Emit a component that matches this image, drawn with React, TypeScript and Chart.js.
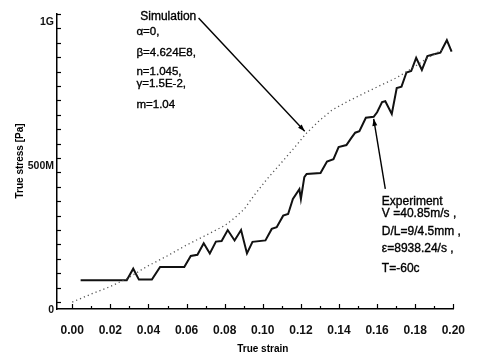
import React, { useEffect, useRef } from "react";
import { Chart, registerables } from "chart.js";

Chart.register(...registerables);

// Measured curve (true strain, true stress in MPa)
const expStrain = [
  0.0044, 0.0286, 0.032, 0.035, 0.0418, 0.0461, 0.0588, 0.0622, 0.0657, 0.069,
  0.0722, 0.0754, 0.0784, 0.0816, 0.0852, 0.0886, 0.0917, 0.0946, 0.1014, 0.1047,
  0.1073, 0.1107, 0.1133, 0.1158, 0.1192, 0.12, 0.1218, 0.123, 0.1303, 0.1337,
  0.1371, 0.1398, 0.1439, 0.1464, 0.1485, 0.1507, 0.1541, 0.1582, 0.16, 0.1626,
  0.1643, 0.1677, 0.1703, 0.1728, 0.1754, 0.1779, 0.1805, 0.1835, 0.1864, 0.1898,
  0.1932, 0.1966, 0.1991,
];
const expStress = [
  76, 76, 116, 78, 78, 122, 122, 160, 164, 204,
  169, 210, 212, 250, 214, 250, 169, 209, 214, 254,
  260, 300, 306, 358, 392, 358, 434, 445, 448, 488,
  496, 538, 545, 569, 588, 593, 640, 643, 659, 694,
  697, 653, 743, 748, 797, 802, 848, 806, 854, 860,
  866, 909, 869,
];

// Model curve (true strain, true stress in MPa)
const simStrain = [
  0, 0.01, 0.02, 0.0291, 0.0393, 0.0495, 0.0597, 0.0699, 0.0801, 0.0852,
  0.0903, 0.0954, 0.1022, 0.109, 0.1158, 0.1226, 0.1294, 0.1362, 0.1447, 0.1532,
  0.1617, 0.1703, 0.178, 0.186, 0.194,
];
const simStress = [
  0, 28, 54, 83, 124, 159, 197, 231, 266, 292,
  323, 370, 427, 478, 530, 584, 628, 666, 697, 725,
  752, 779, 810, 845, 875,
];

const xTickValues = [0, 0.02, 0.04, 0.06, 0.08, 0.1, 0.12, 0.14, 0.16, 0.18, 0.2];
const yTickValues = [0, 500, 1000];
const yTickText = ["0", "500M", "1G"];

const simNotes = ["\u03b1=0,", "\u03b2=4.624E8,", "n=1.045,", "\u03b3=1.5E-2,", "m=1.04"];
const simNoteStress = [938, 866, 800, 759, 686];
const expNotes = ["Experiment", "V =40.85m/s ,", "D/L=9/4.5mm ,", "\u03b5=8938.24/s ,", "T=-60c"];
const expNoteStress = [347, 307, 243, 184, 117];

const FONT = "'Liberation Sans', Arial, sans-serif";

function arrow(ctx: CanvasRenderingContext2D, x1: number, y1: number, x2: number, y2: number) {
  ctx.beginPath();
  ctx.moveTo(x1, y1);
  ctx.lineTo(x2, y2);
  ctx.stroke();
  const a = Math.atan2(y2 - y1, x2 - x1);
  const len = 7;
  const w = 2.5;
  ctx.beginPath();
  ctx.moveTo(x2, y2);
  ctx.lineTo(x2 - len * Math.cos(a) + w * Math.sin(a), y2 - len * Math.sin(a) - w * Math.cos(a));
  ctx.lineTo(x2 - len * Math.cos(a) - w * Math.sin(a), y2 - len * Math.sin(a) + w * Math.cos(a));
  ctx.closePath();
  ctx.fill();
}

// Slightly heavier text for the annotations
function heavyText(ctx: CanvasRenderingContext2D, t: string, x: number, y: number) {
  ctx.fillText(t, x, y);
  ctx.strokeText(t, x, y);
}

const decor = {
  id: "decor",
  afterDraw(chart: any) {
    const { ctx, chartArea } = chart;
    const xs = chart.scales.x;
    const ys = chart.scales.y;
    ctx.save();
    ctx.strokeStyle = "#000";
    ctx.fillStyle = "#000";
    ctx.lineWidth = 1.2;

    // inward minor ticks on the left axis, every 50M
    for (let v = 0; v <= 1000; v += 50) {
      const py = Math.round(ys.getPixelForValue(v)) + 0.5;
      ctx.beginPath();
      ctx.moveTo(chartArea.left, py);
      ctx.lineTo(chartArea.left + 4, py);
      ctx.stroke();
    }
    // inward ticks on the bottom axis, every 0.01
    for (let i = 0; i <= 20; i++) {
      const px = Math.round(xs.getPixelForValue(i / 100)) + 0.5;
      ctx.beginPath();
      ctx.moveTo(px, chartArea.bottom);
      ctx.lineTo(px, chartArea.bottom - (i % 2 === 0 ? 5 : 3));
      ctx.stroke();
    }

    // axis titles
    ctx.font = `bold 10px ${FONT}`;
    ctx.textAlign = "center";
    ctx.textBaseline = "middle";
    ctx.fillText("True strain", xs.getPixelForValue(0.1), 349);
    ctx.save();
    ctx.translate(20, ys.getPixelForValue(490));
    ctx.rotate(-Math.PI / 2);
    ctx.fillText("True stress [Pa]", 0, 0);
    ctx.restore();

    // model parameters and test conditions
    ctx.textAlign = "left";
    ctx.lineWidth = 0.35;
    ctx.font = `12px ${FONT}`;
    heavyText(ctx, "Simulation", xs.getPixelForValue(0.0357), ys.getPixelForValue(990));
    ctx.font = `11.5px ${FONT}`;
    simNotes.forEach((t, i) => {
      heavyText(ctx, t, xs.getPixelForValue(0.0337), ys.getPixelForValue(simNoteStress[i]));
    });
    ctx.font = `12px ${FONT}`;
    expNotes.forEach((t, i) => {
      heavyText(ctx, t, xs.getPixelForValue(0.1625), ys.getPixelForValue(expNoteStress[i]));
    });

    // pointers to the two curves
    ctx.lineWidth = 1.4;
    arrow(ctx, xs.getPixelForValue(0.0663), ys.getPixelForValue(986), xs.getPixelForValue(0.122), ys.getPixelForValue(593));
    arrow(ctx, xs.getPixelForValue(0.1643), ys.getPixelForValue(393), xs.getPixelForValue(0.1582), ys.getPixelForValue(636));
    ctx.restore();
  },
};

export default function App() {
  const ref = useRef<HTMLCanvasElement | null>(null);

  useEffect(() => {
    if (!ref.current) return;
    const chart = new Chart(ref.current, {
      type: "line",
      data: {
        datasets: [
          {
            label: "Simulation",
            data: simStrain.map((x, i) => ({ x, y: simStress[i] })),
            borderColor: "#555",
            borderWidth: 1.3,
            borderDash: [1.2, 3],
            pointRadius: 0,
            tension: 0,
            fill: false,
          },
          {
            label: "Experiment",
            data: expStrain.map((x, i) => ({ x, y: expStress[i] })),
            borderColor: "#111",
            borderWidth: 2,
            pointRadius: 0,
            tension: 0,
            fill: false,
          },
        ],
      },
      options: {
        animation: false,
        responsive: false,
        devicePixelRatio: 1,
        layout: { padding: { top: 14, right: 15, left: 0, bottom: 0 } },
        plugins: { legend: { display: false }, tooltip: { enabled: false } },
        scales: {
          x: {
            type: "linear",
            min: -0.008,
            max: 0.2,
            afterFit: (s: any) => {
              s.height = 45;
            },
            afterBuildTicks: (s: any) => {
              s.ticks = xTickValues.map((value) => ({ value }));
            },
            grid: { display: false, drawTicks: false },
            border: { display: true, color: "#000", width: 1.5 },
            ticks: {
              padding: 14,
              autoSkip: false,
              maxRotation: 0,
              color: "#111",
              font: { family: FONT, size: 12, weight: "bold" },
              callback: (v: any) => Number(v).toFixed(2),
            },
          },
          y: {
            type: "linear",
            min: -24,
            max: 1000,
            afterFit: (s: any) => {
              s.width = 57;
            },
            afterBuildTicks: (s: any) => {
              s.ticks = yTickValues.map((value) => ({ value }));
            },
            grid: { display: false, drawTicks: false },
            border: { display: true, color: "#000", width: 1.5 },
            ticks: {
              padding: 3,
              labelOffset: 8,
              color: "#111",
              font: { family: FONT, size: 10.5, weight: "bold" },
              callback: (v: any) => {
                const i = yTickValues.indexOf(Number(v));
                return i >= 0 ? yTickText[i] : "";
              },
            },
          },
        },
      },
      plugins: [decor],
    });
    return () => chart.destroy();
  }, []);

  return (
    <div style={{ position: "fixed", left: 0, top: 0, width: 479, height: 354, background: "#fff" }}>
      <canvas ref={ref} width={479} height={354} style={{ display: "block" }} />
    </div>
  );
}
